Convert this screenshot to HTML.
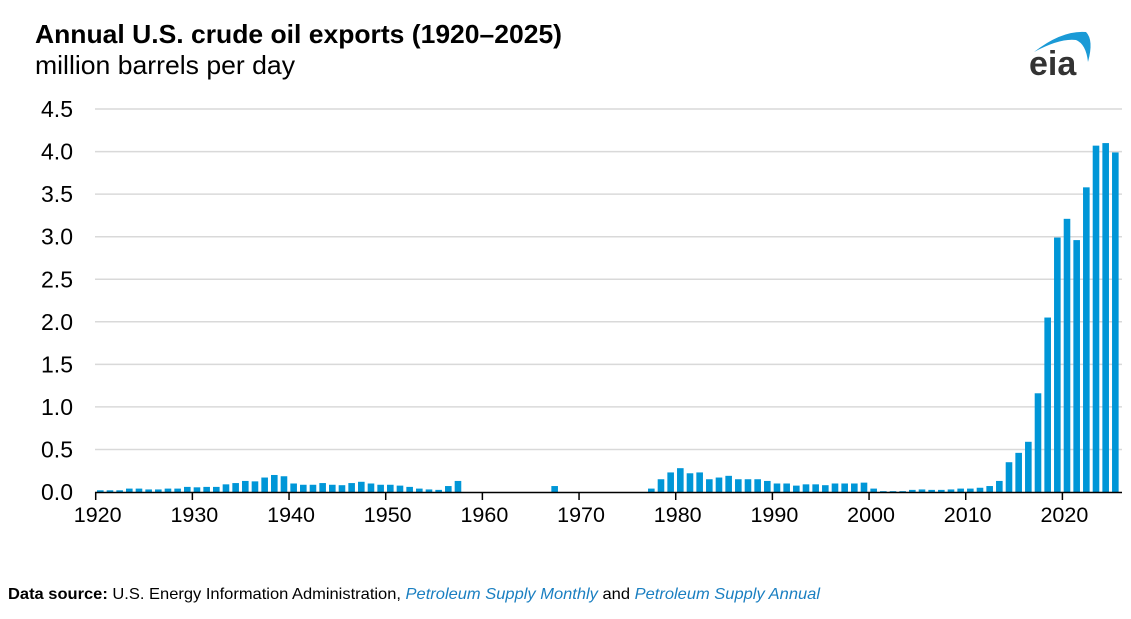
<!DOCTYPE html>
<html><head><meta charset="utf-8"><style>
body{margin:0;background:#fff;}
svg text{font-family:"Liberation Sans",Arial,sans-serif;}
</style></head><body>
<svg width="1131" height="614" viewBox="0 0 1131 614" xmlns="http://www.w3.org/2000/svg">
<rect width="1131" height="614" fill="#fff"/>
<text x="35" y="43" font-size="26" font-weight="bold" fill="#000" textLength="527" lengthAdjust="spacingAndGlyphs">Annual U.S. crude oil exports (1920–2025)</text>
<text x="35" y="74" font-size="26" fill="#000" textLength="260" lengthAdjust="spacingAndGlyphs">million barrels per day</text>
<path d="M1034 52 Q1062 30 1086 32 Q1094 40 1088 62 Q1086 44 1076 40 Q1060 38 1034 52Z" fill="#1a9ad6"/>
<text x="1029" y="75" font-size="34" font-weight="bold" fill="#333">eia</text>
<g id="grid" stroke="#d9d9d9" stroke-width="1.5"></g>
<g id="ylab" font-size="23" fill="#000" text-anchor="end"></g>
<g id="bars" fill="#0096d7"></g>
<line x1="95" y1="492.5" x2="1122" y2="492.5" stroke="#000" stroke-width="1.5"/>
<g id="xt" stroke="#000" stroke-width="1.5"></g>
<g id="xlab" font-size="21.5" fill="#000" text-anchor="middle"></g>
<text x="8" y="599" font-size="16" fill="#000" textLength="812" lengthAdjust="spacingAndGlyphs"><tspan font-weight="bold">Data source:</tspan> U.S. Energy Information Administration, <tspan fill="#1a7fc1" font-style="italic">Petroleum Supply Monthly</tspan> and <tspan fill="#1a7fc1" font-style="italic">Petroleum Supply Annual</tspan></text>
</svg>
<script>
var ns="http://www.w3.org/2000/svg";
function el(p,t,a,txt){var e=document.createElementNS(ns,t);for(var k in a)e.setAttribute(k,a[k]);if(txt!=null)e.textContent=txt;document.getElementById(p).appendChild(e);}
var y0=492,pu=85.1;
for(var i=0;i<=9;i++){var v=i*0.5,y=y0-v*pu;if(i>0)el("grid","line",{x1:95,x2:1122,y1:y,y2:y});el("ylab","text",{x:73,y:y+8},v.toFixed(1));}
function X(yr){return 95.7+(yr-1920)*9.667;}
for(var d=1920;d<=2020;d+=10){el("xt","line",{x1:X(d),x2:X(d),y1:492,y2:500});el("xlab","text",{x:X(d)+2,y:522},String(d));}
var v={1920:.02,1921:.02,1922:.02,1923:.04,1924:.04,1925:.03,1926:.03,1927:.04,1928:.04,1929:.06,1930:.055,1931:.06,1932:.06,1933:.09,1934:.105,1935:.13,1936:.125,1937:.17,1938:.2,1939:.185,1940:.1,1941:.085,1942:.085,1943:.105,1944:.085,1945:.08,1946:.105,1947:.12,1948:.1,1949:.085,1950:.085,1951:.075,1952:.06,1953:.04,1954:.03,1955:.025,1956:.07,1957:.13,1967:.07,
1977:.04,1978:.15,1979:.23,1980:.28,1981:.22,1982:.23,1983:.15,1984:.17,1985:.19,1986:.15,1987:.15,1988:.15,1989:.13,1990:.1,1991:.1,1992:.075,1993:.09,1994:.09,1995:.08,1996:.1,1997:.1,1998:.1,1999:.11,2000:.04,2001:.01,2002:.01,2003:.01,2004:.025,2005:.03,2006:.025,2007:.025,2008:.03,2009:.04,2010:.04,2011:.05,2012:.07,2013:.13,2014:.35,2015:.46,2016:.59,2017:1.16,2018:2.05,2019:2.99,2020:3.21,2021:2.96,2022:3.58,2023:4.07,2024:4.10,2025:3.99};
for(var k in v){var h=v[k]*pu;el("bars","rect",{x:X(+k)+1.3,y:y0-h,width:6.6,height:h});}
</script>
</body></html>
